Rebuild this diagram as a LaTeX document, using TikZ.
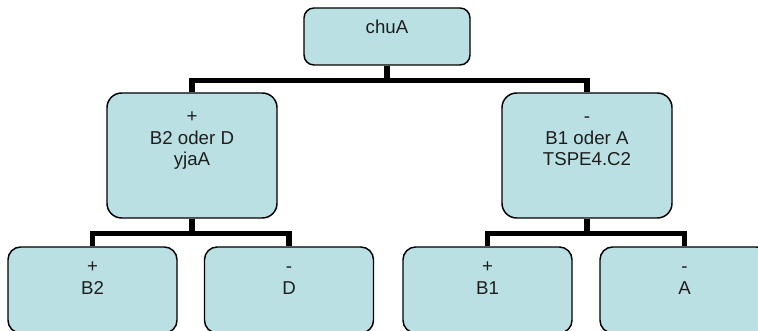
\documentclass[tikz,border=0pt]{standalone}
\usepackage{fontspec}
\setmainfont{Liberation Sans}
\definecolor{boxfill}{RGB}{187,224,227}
\definecolor{ink}{RGB}{30,30,30}
\begin{document}
\begin{tikzpicture}[x=0.75pt,y=-0.75pt,
  box/.style={draw=black, line width=1.1pt, fill=boxfill, rounded corners=#1, inner sep=0pt},
  lbl/.style={anchor=north, inner sep=0pt, align=center, text=ink,
              font=\fontsize{14}{16}\selectfont},
  conn/.style={draw=black, line width=4pt, line join=miter}]
\useasboundingbox (0,0) rectangle (758,331);
\clip (0,0) rectangle (758,331);

% boxes
\node[box=7.5pt, minimum width=124.5pt, minimum height=42.75pt] (top) at (387,36.5) {};
\node[box=11pt, minimum width=127.5pt, minimum height=93.75pt] (ml) at (192,155.5) {};
\node[box=11pt, minimum width=127.5pt, minimum height=93.75pt] (mr) at (587,155.5) {};
\node[box=9.5pt, minimum width=126.75pt, minimum height=64.5pt] (bll) at (92.5,290) {};
\node[box=9.5pt, minimum width=126.75pt, minimum height=64.5pt] (blr) at (289,290) {};
\node[box=9.5pt, minimum width=126.75pt, minimum height=64.5pt] (brl) at (487.5,290) {};
\node[box=9.5pt, minimum width=126.75pt, minimum height=64.5pt] (brr) at (684.5,290) {};

% texts
\node[lbl] (ttop) at ([yshift=-8.1pt]top.north) {\strut chuA};
\node[lbl] (tml) at ([yshift=-11.6pt]ml.north) {\strut +\\B2 oder D\\yjaA};
\node[lbl] (tmr) at ([yshift=-11.6pt]mr.north) {\strut -\\B1 oder A\\TSPE4.C2};
\node[lbl] (tbll) at ([yshift=-8.6pt]bll.north) {\strut +\\B2};
\node[lbl] (tblr) at ([yshift=-8.6pt]blr.north) {\strut -\\D};
\node[lbl] (tbrl) at ([yshift=-8.6pt]brl.north) {\strut +\\B1};
\node[lbl] (tbrr) at ([yshift=-8.6pt]brr.north) {\strut -\\A};

% connectors
\draw[conn] (top.south) -- ++(0,14.5) -| (ml.north);
\draw[conn] (top.south) -- ++(0,14.5) -| (mr.north);
\draw[conn] (ml.south) -- ++(0,15) -| (bll.north);
\draw[conn] (ml.south) -- ++(0,15) -| (blr.north);
\draw[conn] (mr.south) -- ++(0,15) -| (brl.north);
\draw[conn] (mr.south) -- ++(0,15) -| (brr.north);
\end{tikzpicture}
\end{document}
